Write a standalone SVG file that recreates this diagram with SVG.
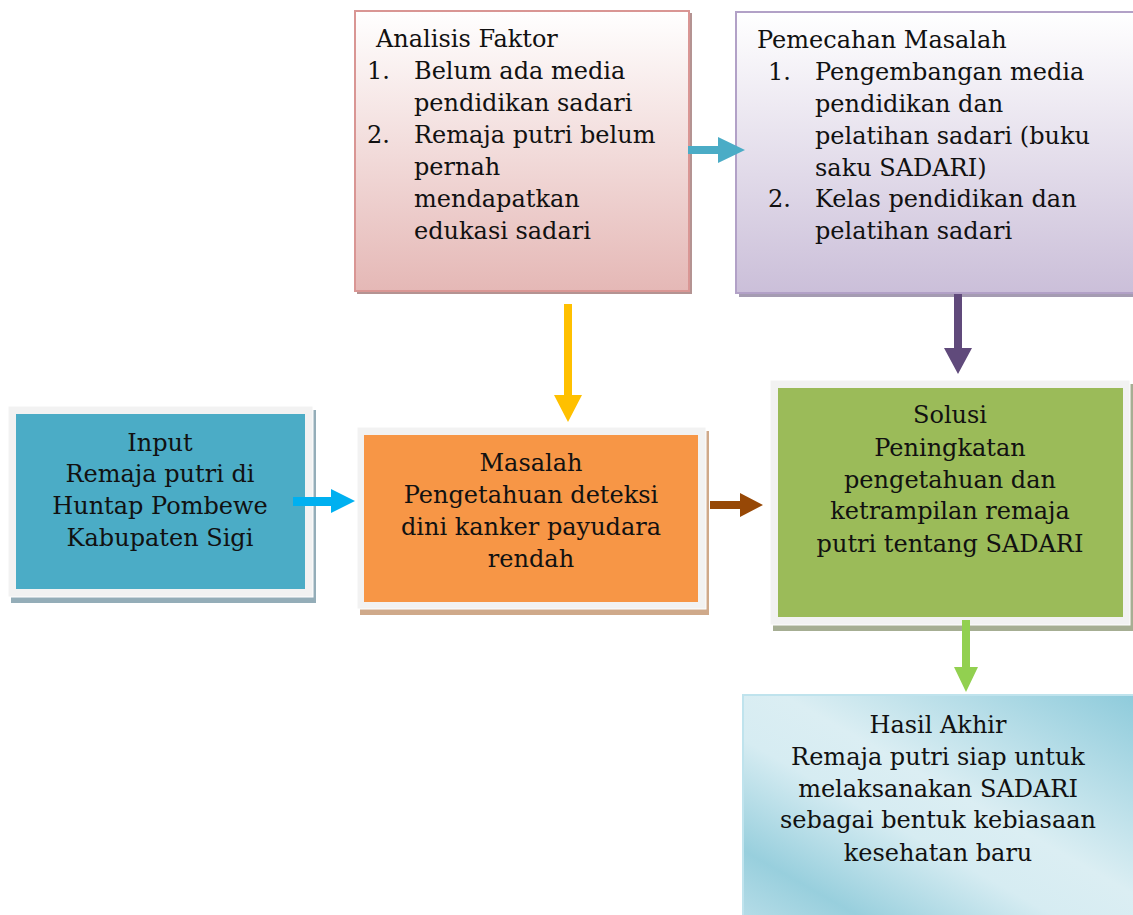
<svg xmlns="http://www.w3.org/2000/svg" width="1133" height="915" viewBox="0 0 1133 915">
<defs>
<linearGradient id="gPink" x1="0" y1="0" x2="0" y2="1">
<stop offset="0" stop-color="#ffffff"/>
<stop offset="1" stop-color="#e5b8b6"/>
</linearGradient>
<linearGradient id="gPurple" x1="0" y1="0" x2="0" y2="1">
<stop offset="0" stop-color="#ffffff"/>
<stop offset="1" stop-color="#cbbfd9"/>
</linearGradient>
<linearGradient id="gBlue" x1="1" y1="0" x2="0" y2="1">
<stop offset="0" stop-color="#8ecbdb"/>
<stop offset="0.45" stop-color="#dbeef3"/>
<stop offset="0.6" stop-color="#d6ecf2"/>
<stop offset="0.85" stop-color="#98cfdd"/>
<stop offset="1" stop-color="#b5dce7"/>
</linearGradient>
</defs>
<style>
text{font-family:"DejaVu Serif","Liberation Serif",serif;font-size:24px;fill:#111;}
.c{text-anchor:middle;}
.frame{fill:#f2f2f2;stroke:#ffffff;stroke-width:1;}
</style>
<rect width="1133" height="915" fill="#ffffff"/>

<g id="analisis">
<rect x="357" y="13" width="335" height="281" fill="#b49392"/>
<rect x="355" y="11" width="334" height="280" fill="url(#gPink)" stroke="#d99694" stroke-width="2"/>
<text x="376" y="47">Analisis Faktor</text>
<text x="367" y="79">1.</text>
<text x="414" y="79">Belum ada media</text>
<text x="414" y="111">pendidikan sadari</text>
<text x="367" y="143">2.</text>
<text x="414" y="143">Remaja putri belum</text>
<text x="414" y="175">pernah</text>
<text x="414" y="207">mendapatkan</text>
<text x="414" y="239">edukasi sadari</text>
</g>

<g id="pemecahan">
<rect x="739" y="16" width="400" height="281" fill="#a59cb2"/>
<rect x="736" y="12" width="400" height="281" fill="url(#gPurple)" stroke="#b2a1c7" stroke-width="2"/>
<text x="757" y="48">Pemecahan Masalah</text>
<text x="768" y="80">1.</text>
<text x="815" y="80">Pengembangan media</text>
<text x="815" y="112">pendidikan dan</text>
<text x="815" y="144">pelatihan sadari (buku</text>
<text x="815" y="176">saku SADARI)</text>
<text x="768" y="207">2.</text>
<text x="815" y="207">Kelas pendidikan dan</text>
<text x="815" y="239">pelatihan sadari</text>
</g>

<g id="input">
<rect x="11" y="410" width="305" height="193" fill="#94adb8"/>
<rect x="8" y="406" width="305" height="191" class="frame"/>
<rect x="16" y="414" width="289" height="175" fill="#4bacc6"/>
<text class="c" x="160" y="451">Input</text>
<text class="c" x="160" y="482">Remaja putri di</text>
<text class="c" x="160" y="514">Huntap Pombewe</text>
<text class="c" x="160" y="546">Kabupaten Sigi</text>
</g>

<g id="masalah">
<rect x="360" y="431" width="349" height="184" fill="#cfa98a"/>
<rect x="357" y="427" width="349" height="182" class="frame"/>
<rect x="364" y="435" width="334" height="167" fill="#f79646"/>
<text class="c" x="531" y="471">Masalah</text>
<text class="c" x="531" y="503">Pengetahuan deteksi</text>
<text class="c" x="531" y="535">dini kanker payudara</text>
<text class="c" x="531" y="567">rendah</text>
</g>

<g id="solusi">
<rect x="773" y="384" width="360" height="247" fill="#a6ae93"/>
<rect x="770" y="380" width="360" height="245" class="frame"/>
<rect x="778" y="388" width="345" height="229" fill="#9bbb59"/>
<text class="c" x="950" y="423">Solusi</text>
<text class="c" x="950" y="456">Peningkatan</text>
<text class="c" x="950" y="488">pengetahuan dan</text>
<text class="c" x="950" y="519">ketrampilan remaja</text>
<text class="c" x="950" y="552">putri tentang SADARI</text>
</g>

<g id="hasil">
<rect x="743" y="695" width="392" height="222" fill="url(#gBlue)" stroke="#bfe3ed" stroke-width="2"/>
<text class="c" x="938" y="733">Hasil Akhir</text>
<text class="c" x="938" y="765">Remaja putri siap untuk</text>
<text class="c" x="938" y="797">melaksanakan SADARI</text>
<text class="c" x="938" y="828">sebagai bentuk kebiasaan</text>
<text class="c" x="938" y="861">kesehatan baru</text>
</g>

<g id="connectors">
<path d="M688 146 H718 V137 L745 150 L718 163 V154 H688 Z" fill="#4bacc6"/>
<path d="M564 304 H572 V395 H582 L568 422 L554 395 H564 Z" fill="#ffc000"/>
<path d="M954 294 H962 V348 H972 L958 374 L944 348 H954 Z" fill="#604a7b"/>
<path d="M293 497 H331 V489 L355 501 L331 513 V506 H293 Z" fill="#00b0f0"/>
<path d="M710 501 H740 V493 L763 505 L740 517 V509 H710 Z" fill="#974806"/>
<path d="M962 620 H970 V667 H978 L966 692 L954 667 H962 Z" fill="#92d050"/>
</g>
</svg>
